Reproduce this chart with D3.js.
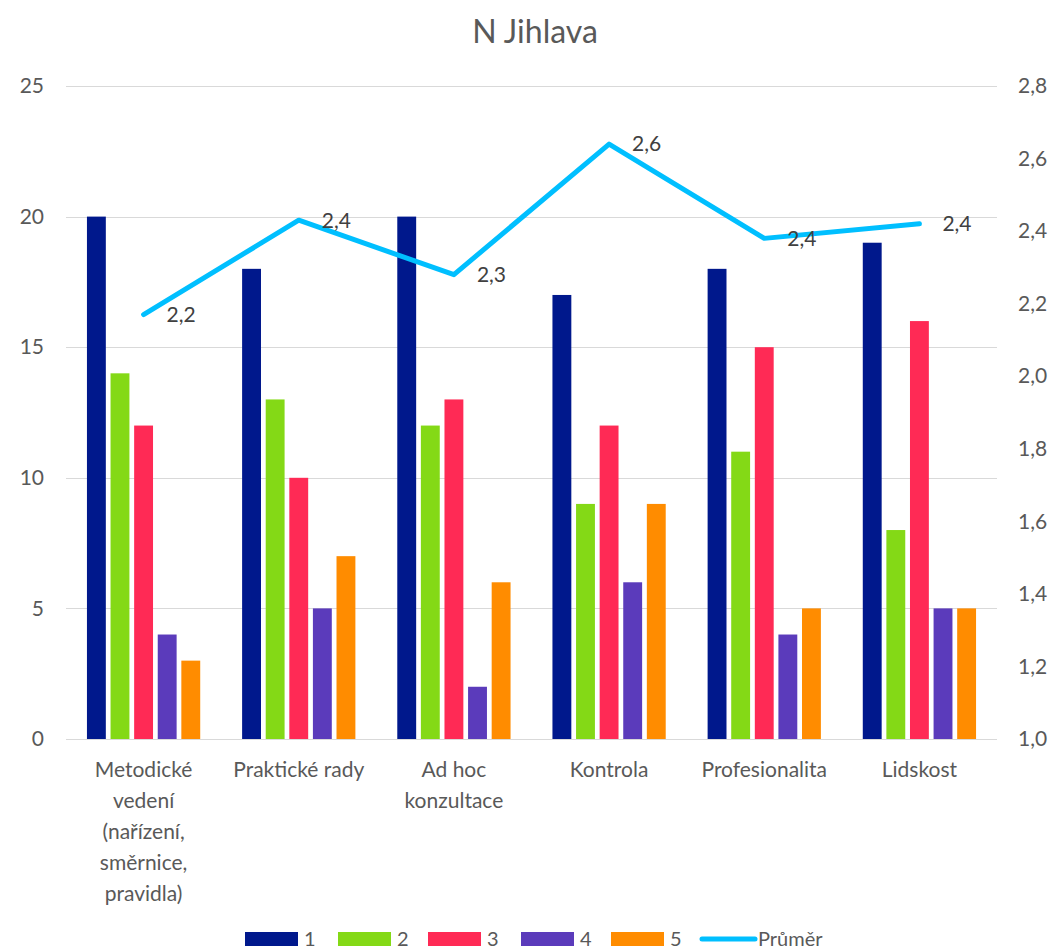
<!DOCTYPE html>
<html>
<head>
<meta charset="utf-8">
<script src="https://cdn.jsdelivr.net/npm/d3@7"></script>
<style>
  body { margin: 0; background: #fff; }
  text { font-family: Lato, "Open Sans", sans-serif; }
</style>
</head>
<body>
<div id="chart"></div>
<script>
// Categories and series
const categories = [
    ["Metodické", "vedení", "(nařízení,", "směrnice,", "pravidla)"],
    ["Praktické rady"],
    ["Ad hoc", "konzultace"],
    ["Kontrola"],
    ["Profesionalita"],
    ["Lidskost"]
];
const seriesNames = ["1", "2", "3", "4", "5"];
const seriesColors = ["#00188c", "#84d916", "#ff2a55", "#5b3bbb", "#ff8c00"];
const values = [
    [20, 14, 12, 4, 3],
    [18, 13, 10, 5, 7],
    [20, 12, 13, 2, 6],
    [17, 9, 12, 6, 9],
    [18, 11, 15, 4, 5],
    [19, 8, 16, 5, 5]
];
const average = [2.17, 2.43, 2.28, 2.64, 2.38, 2.42];
const leftTicks = [0, 5, 10, 15, 20, 25];
const rightTicks = [1.0, 1.2, 1.4, 1.6, 1.8, 2.0, 2.2, 2.4, 2.6, 2.8];

const width = 1055, height = 950;
const plot = {left: 66, right: 997, top: 86, bottom: 739};
const fs = 21;

const svg = d3.select("#chart").append("svg")
    .attr("width", width)
    .attr("height", height);

const catKeys = categories.map((d, i) => i);

const x = d3.scaleBand()
    .domain(catKeys)
    .range([plot.left, plot.right])
    .paddingInner(0.27)
    .paddingOuter(0.135);

const xInner = d3.scaleBand()
    .domain(d3.range(seriesNames.length))
    .range([0, x.bandwidth()])
    .paddingInner(0.2);

const y = d3.scaleLinear().domain([0, 25]).range([plot.bottom, plot.top]);
const y2 = d3.scaleLinear().domain([1.0, 2.8]).range([plot.bottom, plot.top]);

const fmt = v => d3.format(".1f")(v).replace(".", ",");

// title
svg.append("text")
    .attr("x", 535)
    .attr("y", 43)
    .attr("text-anchor", "middle")
    .attr("font-size", 32)
    .attr("fill", "#595959")
    .text("N Jihlava");

// gridlines
svg.append("g")
    .selectAll("line")
    .data(leftTicks)
    .join("line")
    .attr("x1", plot.left)
    .attr("x2", plot.right)
    .attr("y1", d => Math.round(y(d)) + 0.5)
    .attr("y2", d => Math.round(y(d)) + 0.5)
    .attr("stroke", "#d9d9d9")
    .attr("stroke-width", 1.2);

// left axis
const leftAxis = svg.append("g")
    .attr("transform", `translate(${plot.left - 22},0)`)
    .call(d3.axisLeft(y).tickValues(leftTicks).tickSize(0).tickPadding(0));
leftAxis.select(".domain").remove();
leftAxis.selectAll("text")
    .attr("font-size", fs)
    .attr("fill", "#595959")
    .attr("font-family", "Lato, sans-serif");

// right axis
const rightAxis = svg.append("g")
    .attr("transform", `translate(${plot.right + 21},0)`)
    .call(d3.axisRight(y2).tickValues(rightTicks).tickFormat(fmt).tickSize(0).tickPadding(0));
rightAxis.select(".domain").remove();
rightAxis.selectAll("text")
    .attr("font-size", fs)
    .attr("fill", "#595959")
    .attr("font-family", "Lato, sans-serif");

// bars
const groups = svg.append("g")
    .selectAll("g")
    .data(values)
    .join("g")
    .attr("transform", (d, i) => `translate(${x(i)},0)`);

groups.selectAll("rect")
    .data(d => d)
    .join("rect")
    .attr("x", (d, j) => xInner(j))
    .attr("width", xInner.bandwidth())
    .attr("y", d => y(d))
    .attr("height", d => y(0) - y(d))
    .attr("fill", (d, j) => seriesColors[j]);

// category labels
const catLabels = svg.append("g")
    .selectAll("text")
    .data(categories)
    .join("text")
    .attr("x", (d, i) => x(i) + x.bandwidth() / 2)
    .attr("y", 777)
    .attr("text-anchor", "middle")
    .attr("font-size", fs)
    .attr("fill", "#595959");

catLabels.selectAll("tspan")
    .data(d => d)
    .join("tspan")
    .attr("x", function () { return d3.select(this.parentNode).attr("x"); })
    .attr("dy", (d, i) => i === 0 ? 0 : 31)
    .text(d => d);

// average line
const line = d3.line()
    .x((d, i) => x(i) + x.bandwidth() / 2)
    .y(d => y2(d));

svg.append("path")
    .datum(average)
    .attr("d", line)
    .attr("fill", "none")
    .attr("stroke", "#00bfff")
    .attr("stroke-width", 5)
    .attr("stroke-linecap", "round")
    .attr("stroke-linejoin", "round");

svg.append("g")
    .selectAll("text")
    .data(average)
    .join("text")
    .attr("x", (d, i) => x(i) + x.bandwidth() / 2 + 23)
    .attr("y", d => y2(d))
    .attr("dy", "0.35em")
    .attr("font-size", fs)
    .attr("fill", "#404040")
    .text(d => fmt(d));

// legend
const legendX = [245, 338, 428, 521, 611];
const legend = svg.append("g");
seriesNames.forEach((name, i) => {
    legend.append("rect")
        .attr("x", legendX[i])
        .attr("y", 932)
        .attr("width", 53)
        .attr("height", 14)
        .attr("fill", seriesColors[i]);
    legend.append("text")
        .attr("x", legendX[i] + 59)
        .attr("y", 946)
        .attr("font-size", fs - 1)
        .attr("fill", "#595959")
        .text(name);
});
legend.append("line")
    .attr("x1", 702)
    .attr("x2", 755)
    .attr("y1", 939)
    .attr("y2", 939)
    .attr("stroke", "#00bfff")
    .attr("stroke-width", 5)
    .attr("stroke-linecap", "round");
legend.append("text")
    .attr("x", 758)
    .attr("y", 946)
    .attr("font-size", fs - 1)
    .attr("fill", "#595959")
    .text("Průměr");
</script>
</body>
</html>
